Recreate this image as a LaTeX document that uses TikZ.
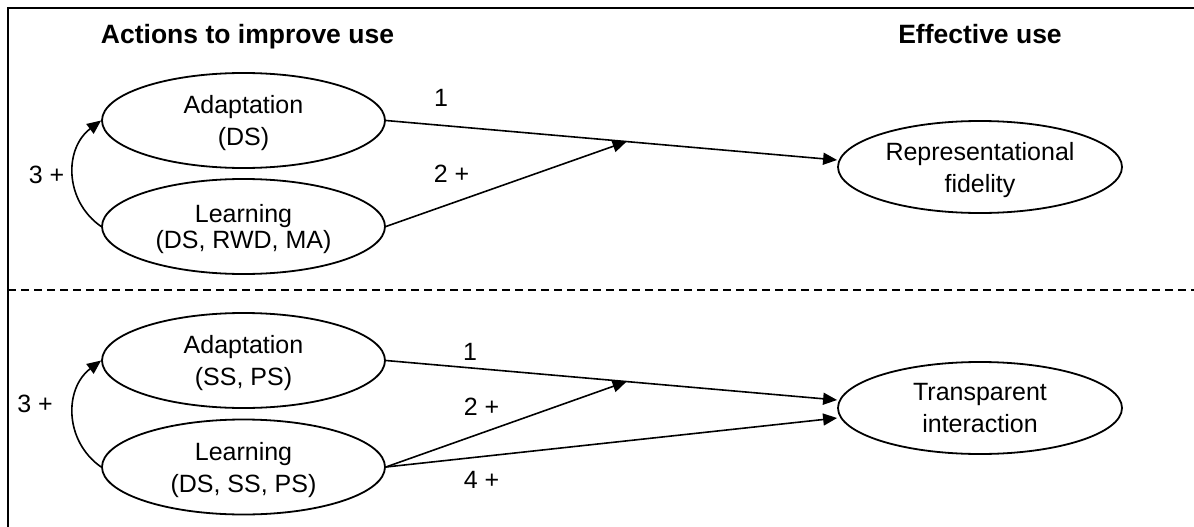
\documentclass[tikz,border=0pt]{standalone}
\usepackage{fontspec}
\setmainfont{Liberation Sans}
\usetikzlibrary{arrows.meta,shapes.geometric,calc}
\begin{document}
\begin{tikzpicture}[x=1pt,y=-1pt,
  ell/.style={draw, ellipse, line width=1.8pt, inner sep=0pt,
    minimum width=283pt, minimum height=95pt, align=center,
    font=\fontsize{25}{32}\selectfont, text depth=0pt},
  rell/.style={ell, minimum width=284pt, minimum height=92pt},
  arr/.style={line width=1.6pt, -{Triangle[length=14pt,width=12pt]}},
  hdr/.style={font=\fontsize{26.5}{30}\selectfont\bfseries, anchor=base, inner sep=0pt},
  lbl/.style={font=\fontsize{25}{30}\selectfont, anchor=base, inner sep=0pt},
  frame/.style={line width=2.2pt},
  divider/.style={line width=1.8pt, dash pattern=on 8pt off 5pt}]
\useasboundingbox (0,0) rectangle (1194,527);

% frame and divider
\draw[frame] (8,527) -- (8,8) -- (1194,8);
\draw[divider] (8,290) -- (1194,290);

% headers
\node[hdr] (h1) at (247.5,43.3) {Actions to improve use};
\node[hdr] (h2) at (980,43.3) {Effective use};

% upper part
\node[ell] (A1) at (243.5,120.5) {Adaptation\\(DS)};
\node[ell] (L1) at (243.5,226.5) {Learning\\[-6pt](DS, RWD, MA)};
\node[rell] (R) at (980,167) {Representational\\fidelity};

\coordinate (R1) at ($(R.west)+(0,-7)$);
\coordinate (J1) at ($(A1.east)!0.5335!(R1)$);
\draw[arr] (A1.east) -- (R1);
\draw[arr] (L1.east) -- (J1);
\draw[arr] (L1.west) .. controls ($(L1.west)+(-37,-26)$) and ($(A1.west)+(-37,28)$) .. (A1.west);

\node[lbl] (n1a) at (441,106.7) {1};
\node[lbl] (n2a) at (451.5,182) {2 +};
\node[lbl] (n3a) at (46.5,183) {3 +};

% lower part
\node[ell] (A2) at (243.5,360.5) {Adaptation\\(SS, PS)};
\node[ell] (L2) at (243.5,467) {Learning\\(DS, SS, PS)};
\node[rell] (T) at (980,408) {Transparent\\interaction};

\coordinate (T1) at ($(T.west)+(0,-8)$);
\coordinate (T2) at ($(T.west)+(0,10)$);
\coordinate (J2) at ($(A2.east)!0.5335!(T1)$);
\draw[arr] (A2.east) -- (T1);
\draw[arr] (L2.east) -- (J2);
\draw[arr] (L2.east) -- (T2);
\draw[arr] (L2.west) .. controls ($(L2.west)+(-37,-26)$) and ($(A2.west)+(-37,28)$) .. (A2.west);

\node[lbl] (n1b) at (470,360) {1};
\node[lbl] (n2b) at (481.5,415) {2 +};
\node[lbl] (n3b) at (35,412) {3 +};
\node[lbl] (n4b) at (481.5,488) {4 +};
\end{tikzpicture}
\end{document}
